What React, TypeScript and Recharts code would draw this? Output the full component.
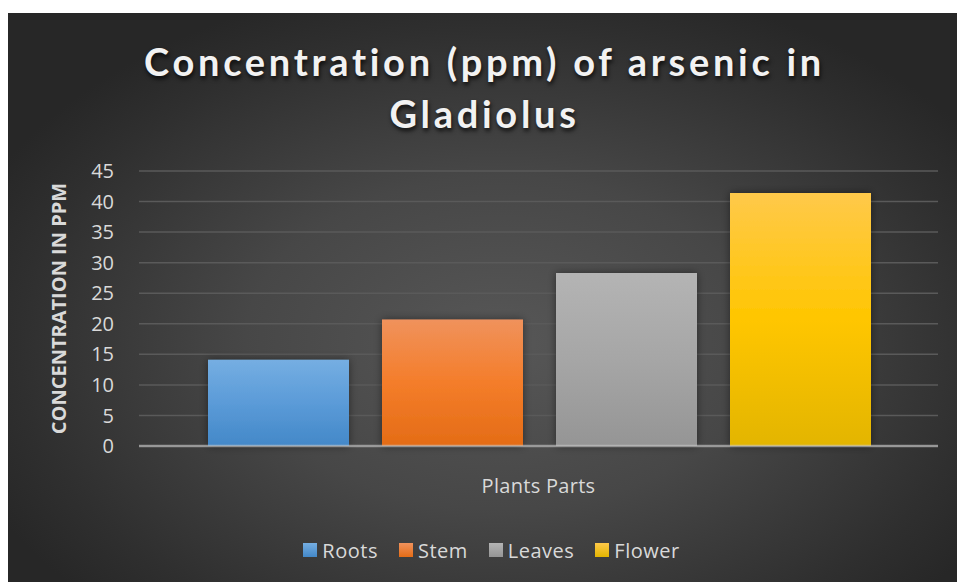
import React from 'react';
import { BarChart, Bar, XAxis, YAxis, CartesianGrid, Legend } from 'recharts';

const categories = ['Plants Parts'];
const seriesNames = ['Roots', 'Stem', 'Leaves', 'Flower'];
const roots = [14.1];
const stem = [20.7];
const leaves = [28.3];
const flower = [41.4];
const yTicks = [0, 5, 10, 15, 20, 25, 30, 35, 40, 45];
const titleLines = ['Concentration (ppm) of arsenic in', 'Gladiolus'];
const yTitle = 'CONCENTRATION IN PPM';

const seriesValues = [roots, stem, leaves, flower];
const gradients = [
  { id: 'gRoots', top: '#75aee2', mid: '#5b9bd8', bottom: '#4388c8' },
  { id: 'gStem', top: '#f0925c', mid: '#f47d2a', bottom: '#e46c16' },
  { id: 'gLeaves', top: '#b4b4b4', mid: '#a6a6a6', bottom: '#959595' },
  { id: 'gFlower', top: '#ffc94a', mid: '#ffc600', bottom: '#e3b500' },
];

const data = categories.map((c, i) => {
  const row: Record<string, string | number> = { name: c };
  seriesNames.forEach((s, k) => {
    row[s] = seriesValues[k][i];
  });
  return row;
});

const FONT = '"Open Sans", "Noto Sans", sans-serif';
const TEXT = '#d9d9d9';

const LegendContent = () => (
  <div style={{ display: 'flex', justifyContent: 'center', alignItems: 'center', height: 40, fontFamily: FONT, fontSize: 20, letterSpacing: 0.5, color: TEXT, paddingLeft: 58 }}>
    {seriesNames.map((s, k) => (
      <div key={s} style={{ display: 'flex', alignItems: 'center', marginRight: 21 }}>
        <span style={{ display: 'inline-block', width: 14, height: 14, background: `linear-gradient(${gradients[k].top}, ${gradients[k].bottom})`, marginRight: 5 }} />
        <span>{s}</span>
      </div>
    ))}
  </div>
);

const YTitle = (props: any) => {
  const vb = props.viewBox || { x: 0, y: 0, width: 0, height: 0 };
  const cx = vb.x + 50;
  const cy = vb.y + vb.height / 2;
  return (
    <text x={cx} y={cy} transform={`rotate(-90, ${cx}, ${cy})`} textAnchor="middle" dominantBaseline="central"
      fill={TEXT} fontFamily={FONT} fontSize={20} fontWeight={700}>
      {yTitle}
    </text>
  );
};

export default function App() {
  return (
    <div>
      <style>{`html,body{margin:0;overflow:hidden;background:#fff;}`}</style>
      <div
        style={{
          position: 'absolute', left: 8, top: 13, width: 949, height: 569,
          background: 'radial-gradient(ellipse 60% 65% at 52% 58%, #575757 0%, #474747 45%, #2f2f2f 85%, #272727 100%)',
          overflow: 'hidden',
        }}
      >
        <div style={{ position: 'absolute', left: 2, top: 22, width: 949, textAlign: 'center', fontFamily: 'Lato, "Open Sans", sans-serif', fontWeight: 700, fontSize: 38, letterSpacing: 3.7, lineHeight: '52px', color: '#f2f2f2', textShadow: '1px 3px 4px rgba(0,0,0,0.75)' }}>
          {titleLines.map((t) => (<div key={t}>{t}</div>))}
        </div>
        <BarChart width={949} height={569} data={data} margin={{ top: 158, right: 19, left: 0, bottom: 12 }}
          barGap={33} barCategoryGap={69}>
          <defs>
            {gradients.map((g) => (
              <linearGradient key={g.id} id={g.id} x1="0" y1="0" x2="0" y2="1">
                <stop offset="0%" stopColor={g.top} />
                <stop offset="50%" stopColor={g.mid} />
                <stop offset="100%" stopColor={g.bottom} />
              </linearGradient>
            ))}
            <filter id="barShadow" x="-10%" y="-10%" width="120%" height="120%">
              <feDropShadow dx="0" dy="0" stdDeviation="4" floodColor="#000" floodOpacity="0.45" />
            </filter>
          </defs>
          <CartesianGrid vertical={false} stroke="#5a5a5a" strokeWidth={1.5} />
          <YAxis type="number" domain={[0, 45]} ticks={yTicks} width={131} axisLine={false} tickLine={false}
            tickSize={0} tickMargin={25} interval={0}
            tick={{ fill: TEXT, fontFamily: FONT, fontSize: 20 }}
            label={<YTitle />} />
          {seriesNames.map((s, k) => (
            <Bar key={s} dataKey={s} fill={`url(#${gradients[k].id})`} isAnimationActive={false} filter="url(#barShadow)" />
          ))}
          <XAxis dataKey="name" height={84} tickLine={false} tickSize={0} tickMargin={33}
            axisLine={{ stroke: 'rgba(200,200,200,0.6)', strokeWidth: 2.5 }}
            tick={{ fill: TEXT, fontFamily: FONT, fontSize: 20, letterSpacing: 0.3 }} />
          <Legend verticalAlign="bottom" height={40} content={<LegendContent />} />
        </BarChart>
      </div>
    </div>
  );
}
